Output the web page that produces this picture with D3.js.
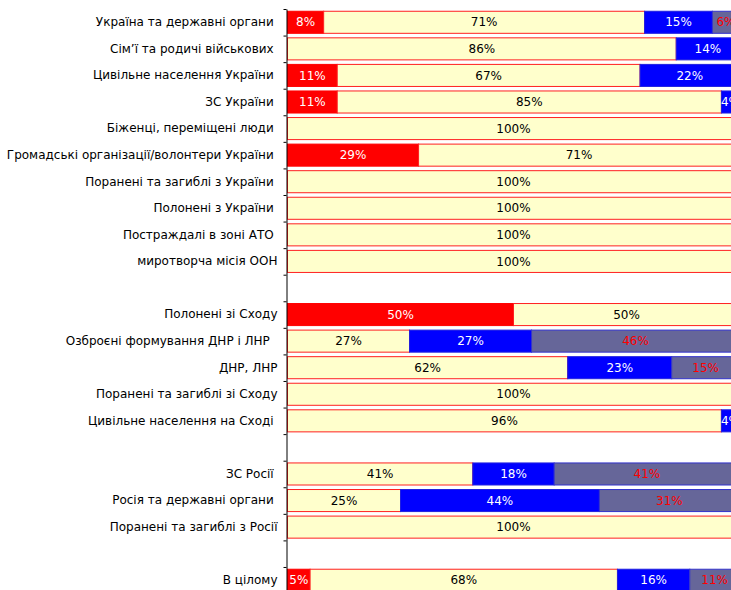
<!DOCTYPE html>
<html>
<head>
<meta charset="utf-8">
<script src="https://cdn.jsdelivr.net/npm/d3@7/dist/d3.min.js"></script>
<style>
  body { margin: 0; background: #fff; }
  svg text { font-family: "DejaVu Sans", Verdana, sans-serif; font-size: 12px; }
  .yAxis text { white-space: pre; }
</style>
</head>
<body>
<div id="chart"></div>
<script>
// rows from top to bottom, "" = empty spacer row
const categories = [
    "Україна та державні органи ",
    "Сім’ї та родичі військових ",
    "Цивільне населення України ",
    "ЗС України ",
    "Біженці, переміщені люди ",
    "Громадські організації/волонтери України ",
    "Поранені та загиблі з України ",
    "Полонені з України ",
    "Постраждалі в зоні АТО ",
    "миротворча місія ООН",
    "",
    "Полонені зі Сходу",
    "Озброєні формування ДНР і ЛНР  ",
    "ДНР, ЛНР",
    "Поранені та загиблі зі Сходу",
    "Цивільне населення на Сході ",
    "",
    "ЗС Росії ",
    "Росія та державні органи ",
    "Поранені та загиблі з Росії",
    "",
    "В цілому"
];
const redShare    = [8, 0, 11, 11, 0, 29, 0, 0, 0, 0, null, 50, 0, 0, 0, 0, null, 0, 0, 0, null, 5];
const yellowShare = [71, 86, 67, 85, 100, 71, 100, 100, 100, 100, null, 50, 27, 62, 100, 96, null, 41, 25, 100, null, 68];
const blueShare   = [15, 14, 22, 4, 0, 0, 0, 0, 0, 0, null, 0, 27, 23, 0, 4, null, 18, 44, 0, null, 16];
const grayShare   = [6, 0, 0, 0, 0, 0, 0, 0, 0, 0, null, 0, 46, 15, 0, 0, null, 41, 31, 0, null, 11];

const keys = ['red', 'yellow', 'blue', 'gray'];
const fills = { red: '#ff0000', yellow: '#ffffcc', blue: '#0000ff', gray: '#666699' };
const strokes = { red: '#ff0000', yellow: '#ff2020', blue: '#2020e0', gray: '#3333cc' };
const labelColors = { red: '#ffffff', yellow: '#000000', blue: '#ffffff', gray: '#ff0000' };

const [svgWidth, svgHeight] = [731, 590];
const margin = { left: 287.5, top: 9 };
const plotWidth = 452;
const bandStep = 26.57;

const rows = categories.map((c, i) => ({
    idx: i,
    red: redShare[i] || 0,
    yellow: yellowShare[i] || 0,
    blue: blueShare[i] || 0,
    gray: grayShare[i] || 0
}));

const xScale = d3.scaleLinear().domain([0, 100]).range([margin.left, margin.left + plotWidth]);
const yScale = d3.scaleBand()
    .domain(d3.range(categories.length))
    .range([margin.top, margin.top + bandStep * categories.length])
    .paddingInner(0.17)
    .paddingOuter(0.085);
const edgeScale = d3.scaleLinear()
    .domain([0, categories.length])
    .range([margin.top, margin.top + bandStep * categories.length]);

const svg = d3.select('#chart').append('svg')
    .attr('width', svgWidth)
    .attr('height', svgHeight);

const stacked = d3.stack().keys(keys)(rows);

const layers = svg.append('g').attr('class', 'bars')
    .selectAll('g')
    .data(stacked)
    .enter().append('g');

layers.selectAll('rect')
    .data(d => d.map(s => ({ key: d.key, s: s })).filter(o => o.s[1] - o.s[0] > 0))
    .enter().append('rect')
    .attr('x', d => xScale(d.s[0]))
    .attr('y', d => yScale(d.s.data.idx))
    .attr('width', d => xScale(d.s[1]) - xScale(d.s[0]))
    .attr('height', yScale.bandwidth())
    .style('fill', d => fills[d.key])
    .style('stroke', d => strokes[d.key])
    .style('stroke-width', 1);

layers.selectAll('text')
    .data(d => d.map(s => ({ key: d.key, s: s })).filter(o => o.s[1] - o.s[0] > 0))
    .enter().append('text')
    .attr('x', d => (xScale(d.s[0]) + xScale(d.s[1])) / 2)
    .attr('y', d => yScale(d.s.data.idx) + yScale.bandwidth() / 2)
    .attr('dy', '0.35em')
    .attr('text-anchor', 'middle')
    .style('fill', d => labelColors[d.key])
    .text(d => (d.s[1] - d.s[0]) + '%');

// category labels
const yAxis = svg.append('g')
    .attr('class', 'yAxis')
    .attr('transform', 'translate(286.5,0)')
    .call(d3.axisLeft(yScale).tickSize(0).tickPadding(9).tickFormat(i => categories[i]));
yAxis.select('.domain').remove();
yAxis.selectAll('text').style('fill', '#000');

// axis line with ticks between the rows
const edgeAxis = svg.append('g')
    .attr('class', 'edgeAxis')
    .attr('transform', 'translate(286.5,0)')
    .call(d3.axisLeft(edgeScale).tickValues(d3.range(categories.length + 1)).tickSize(3).tickSizeOuter(0).tickFormat(''));
edgeAxis.selectAll('line, path').style('stroke', '#000');
</script>
</body>
</html>
